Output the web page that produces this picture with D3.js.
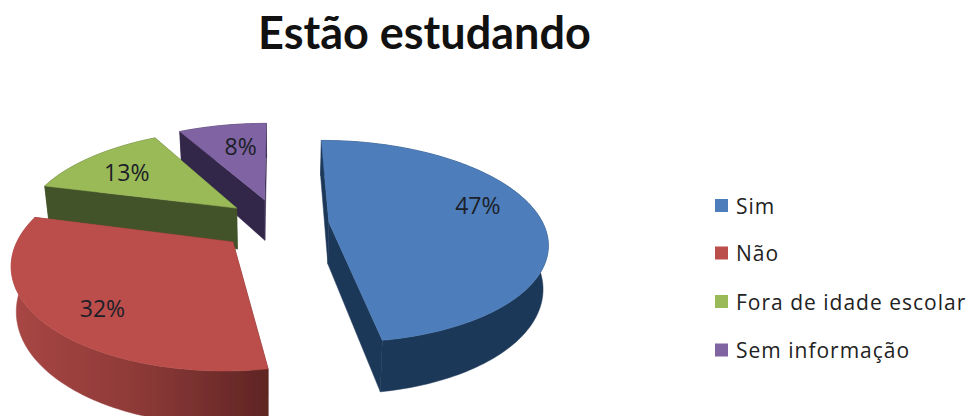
<!DOCTYPE html>
<html><head><meta charset="utf-8">
<script src="https://cdnjs.cloudflare.com/ajax/libs/d3/7.8.5/d3.min.js"></script>
<style>html,body{margin:0;padding:0;background:#fff;overflow:hidden}svg{display:block}</style>
</head><body><svg id="c" width="971" height="416"></svg>
<script>
const chartTitle = "Estão estudando";
const categories = ["Sim","Não","Fora de idade escolar","Sem informação"];
const shares = [47.4,31.6,13,8];
const topColors = ["#4d7ebb","#bb4e4b","#9aba59","#8064a2"];
const sideColors = ["#1f3859","#7a3130","#43532a","#33264a"];
const legendRows = [205.5,253,301.5,350];
const labelNudge = [[2,-12],[-4,12],[-5.5,1],[7,1]];
const sliceNudgeX = [4,-10,-5,-2];
const sliceNudgeY = [4,7,1,0];
const sliceScaleX = [0.97,0.95,0.97,0.98];

const W=971,H=416;
const svg=d3.select("#c");
const defs=svg.append("defs");
const grad=defs.append("linearGradient").attr("id","redSide").attr("gradientUnits","userSpaceOnUse")
  .attr("x1",15).attr("x2",272).attr("y1",0).attr("y2",0);
grad.append("stop").attr("offset",0).attr("stop-color","#a84644");
grad.append("stop").attr("offset",0.5).attr("stop-color","#8c3937");
grad.append("stop").attr("offset",1).attr("stop-color","#5e2423");
const blurF=defs.append("filter").attr("id","soft");
blurF.append("feGaussianBlur").attr("stdDeviation",0.5);

// camera model
const cx=278, cy=220, sx=221, sy=98, persp=0.19, explode=0.22, depth=42, shrink=0.98;
const pie=d3.pie().sort(null).value(d=>d).startAngle(0).endAngle(2*Math.PI);
const arcs=pie(shares);
const line=d3.line();

function project(i,mid,a,r,z){
  const Px=explode*Math.sin(mid)+r*Math.sin(a);
  const Py=-explode*Math.cos(mid)-r*Math.cos(a);
  const w=1-persp*Py;
  const k=(z?shrink:1)*sliceScaleX[i];
  return [cx+sliceNudgeX[i]+k*sx*Px/w, cy+sliceNudgeY[i]+(sy*Py+(z?depth:0))/w];
}
function rim(i,mid,a0,a1,z){
  const n=Math.max(2,Math.ceil((a1-a0)/0.02));
  return d3.range(n+1).map(j=>project(i,mid,a0+(a1-a0)*j/n,1,z));
}
const order=[3,2,1,0];
order.forEach(i=>{
  const d=arcs[i], mid=(d.startAngle+d.endAngle)/2, g=svg.append("g").attr("filter","url(#soft)");
  const side=i===1?"url(#redSide)":sideColors[i];
  const A=project(i,mid,0,0,0), Az=project(i,mid,0,0,1);
  [d.startAngle,d.endAngle].forEach(a=>{
    const P=project(i,mid,a,1,0),Pz=project(i,mid,a,1,1);
    g.append("path").attr("d",line([A,P,Pz,Az])+"Z").attr("fill",side).attr("stroke",side).attr("stroke-width",.5);
  });
  const top=rim(i,mid,d.startAngle,d.endAngle,0);
  const bot=rim(i,mid,d.startAngle,d.endAngle,1).reverse();
  g.append("path").attr("d",line(top.concat(bot))+"Z").attr("fill",side).attr("stroke",side).attr("stroke-width",.5);
  g.append("path").attr("d",line([A].concat(top))+"Z").attr("fill",topColors[i]).attr("stroke",topColors[i]).attr("stroke-width",.5);
});
const fmt=d3.format(".0f");
arcs.forEach((d,i)=>{
  const mid=(d.startAngle+d.endAngle)/2;
  const p=project(i,mid,mid,0.7,0);
  svg.append("text").attr("x",p[0]+labelNudge[i][0]).attr("y",p[1]+labelNudge[i][1])
    .attr("text-anchor","middle").attr("dominant-baseline","central")
    .attr("font-family","'Open Sans',sans-serif").attr("font-size",23).attr("fill","#1b2028")
    .text(fmt(d.data)+"%");
});
svg.append("text").attr("x",424.5).attr("y",49).attr("text-anchor","middle")
  .attr("font-family","Lato,sans-serif").attr("font-weight",700).attr("font-size",45).attr("fill","#111").text(chartTitle);
const rowY=d3.scaleOrdinal().domain(categories).range(legendRows);
categories.forEach((c,i)=>{
  svg.append("rect").attr("x",715).attr("y",rowY(c)-6.5).attr("width",13).attr("height",13).attr("fill",topColors[i]);
  svg.append("text").attr("x",736).attr("y",rowY(c)).attr("dominant-baseline","central")
    .attr("font-family","'Open Sans',sans-serif").attr("font-size",21).attr("letter-spacing",1).attr("fill","#222").text(c);
});
</script></body></html>
